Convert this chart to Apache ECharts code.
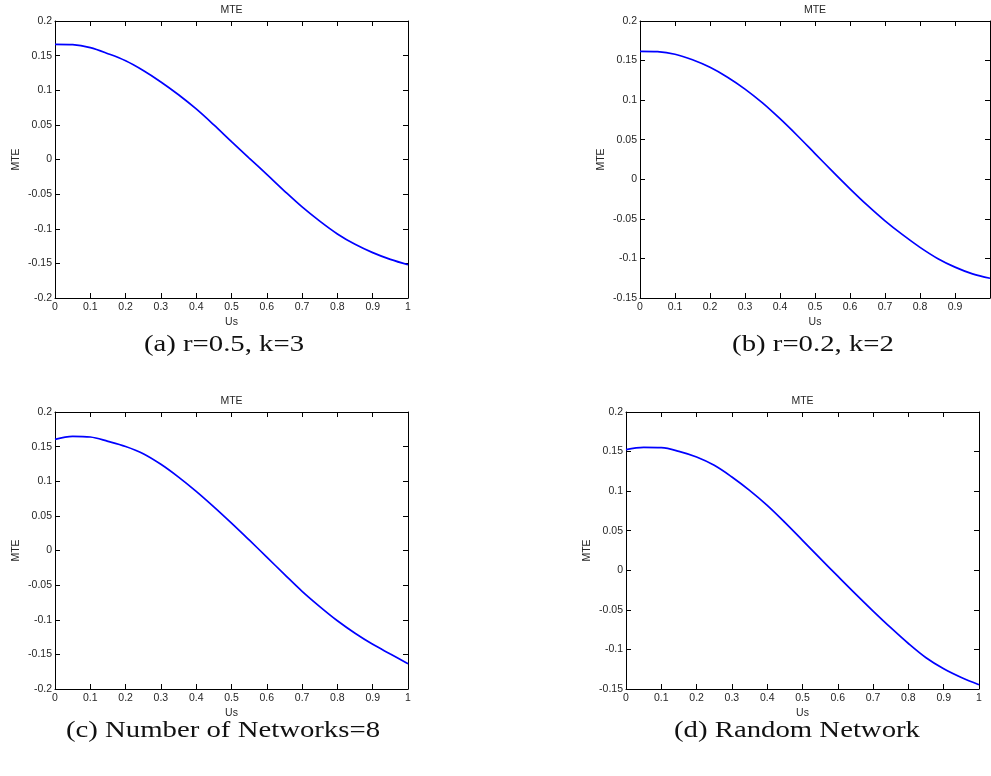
<!DOCTYPE html>
<html>
<head>
<meta charset="utf-8">
<script src="https://cdn.jsdelivr.net/npm/echarts@6/dist/echarts.min.js"></script>
<style>
html,body{margin:0;padding:0;background:#fff;overflow:hidden;}
#chart{width:991px;height:776px;}
</style>
</head>
<body>
<div id="chart"></div>
<script>
// Shared x samples (Us)
var usValues = [0,0.05,0.1,0.15,0.2,0.25,0.3,0.35,0.4,0.45,0.5,0.55,0.6,0.65,0.7,0.75,0.8,0.85,0.9,0.95,1.0];
// (a) r=0.5, k=3
var mteA = [0.1663,0.1658,0.1615,0.1528,0.1425,0.1285,0.1120,0.0935,0.0730,0.0500,0.0258,0.0020,-0.0215,-0.0455,-0.0685,-0.0890,-0.1075,-0.1225,-0.1345,-0.1443,-0.1520];
// (b) r=0.2, k=2
var mteB = [0.1617,0.1612,0.1580,0.1510,0.1415,0.1290,0.1140,0.0965,0.0765,0.0550,0.0325,0.0100,-0.0120,-0.0330,-0.0525,-0.0700,-0.0860,-0.1000,-0.1110,-0.1195,-0.1250];
// (c) Number of Networks=8
var mteC = [0.1605,0.1649,0.1639,0.1576,0.1502,0.1398,0.1245,0.1060,0.0854,0.0630,0.0395,0.0152,-0.0095,-0.0345,-0.0590,-0.0810,-0.1015,-0.1195,-0.1355,-0.1495,-0.1634];
// (d) Random Network
var mteD = [0.1524,0.1553,0.1549,0.1503,0.1431,0.1326,0.1179,0.1010,0.0820,0.0605,0.0378,0.0150,-0.0075,-0.0298,-0.0515,-0.0725,-0.0925,-0.1105,-0.1245,-0.1355,-0.1446];

var captions = ["(a) r=0.5, k=3", "(b) r=0.2, k=2", "(c) Number of Networks=8", "(d) Random Network"];
var plotTitle = "MTE";
var xName = "Us";
var yName = "MTE";
var yRanges = [[-0.2,0.2],[-0.15,0.2],[-0.2,0.2],[-0.15,0.2]];

var panels = [
  {data: mteA, grid:{left:55, top:21, width:353, height:277}, cap:{x:224,y:345}, showMaxX:true},
  {data: mteB, grid:{left:640, top:21, width:350, height:277}, cap:{x:813,y:345}, showMaxX:false},
  {data: mteC, grid:{left:55, top:412, width:353, height:277}, cap:{x:223,y:731}, showMaxX:true},
  {data: mteD, grid:{left:626, top:412, width:353, height:277}, cap:{x:797,y:731}, showMaxX:true}
];

var labelFont = {fontFamily:'Liberation Sans, Arial, sans-serif', fontSize:10.5, color:'#262626'};
var lineStyle = {color:'#000', width:1};
var option = {
  animation:false,
  backgroundColor:'#fff',
  grid:[], xAxis:[], yAxis:[], series:[], title:[], graphic:[]
};

panels.forEach(function(p, i){
  option.grid.push(Object.assign({containLabel:false, outerBoundsMode:'none', show:false}, p.grid));
  var tick = {show:true, inside:true, length:5, lineStyle:{color:'#000', width:1}};
  // bottom x
  option.xAxis.push({type:'value', gridIndex:i, min:0, max:1, interval:0.1, position:'bottom',
    axisLine:{show:true, onZero:false, lineStyle:lineStyle}, axisTick:tick,
    axisLabel:Object.assign({margin:4, showMaxLabel:p.showMaxX, showMinLabel:true, hideOverlap:false}, labelFont),
    splitLine:{show:false},
    name:xName, nameLocation:'middle', nameGap:19,
    nameTextStyle:labelFont});
  // top x
  option.xAxis.push({type:'value', gridIndex:i, min:0, max:1, interval:0.1, position:'top',
    axisLine:{show:true, onZero:false, lineStyle:lineStyle}, axisTick:tick,
    axisLabel:{show:false}, splitLine:{show:false}});
  // left y
  option.yAxis.push({type:'value', gridIndex:i, min:yRanges[i][0], max:yRanges[i][1], interval:0.05, position:'left',
    axisLine:{show:true, onZero:false, lineStyle:lineStyle}, axisTick:tick,
    axisLabel:Object.assign({margin:3, hideOverlap:false, formatter:function(v){return String(Math.round(v*100)/100);}}, labelFont),
    splitLine:{show:false},
    name:yName, nameLocation:'middle', nameGap:33, nameRotate:90,
    nameTextStyle:labelFont});
  // right y
  option.yAxis.push({type:'value', gridIndex:i, min:yRanges[i][0], max:yRanges[i][1], interval:0.05, position:'right',
    axisLine:{show:true, onZero:false, lineStyle:lineStyle}, axisTick:tick,
    axisLabel:{show:false}, splitLine:{show:false}});

  option.series.push({type:'line', xAxisIndex:i*2, yAxisIndex:i*2,
    data: usValues.map(function(u, j){return [u, p.data[j]];}),
    smooth:0.35, showSymbol:false, symbol:'none',
    lineStyle:{color:'#0000ff', width:1.7}, clip:true});

  option.title.push({text:plotTitle, left:p.grid.left + p.grid.width/2, top:p.grid.top - 16, padding:0,
    textAlign:'center',
    textStyle:{fontFamily:'Liberation Sans, Arial, sans-serif', fontSize:10.5, fontWeight:'normal', color:'#262626'}});

  option.graphic.push({type:'text', x:p.cap.x, y:p.cap.y, scaleX:1.25, scaleY:1,
    style:{text:captions[i], fill:'#111', font:'23px "Liberation Serif", "DejaVu Serif", serif',
      align:'center', verticalAlign:'middle'}});
});

var chart = echarts.init(document.getElementById('chart'), null, {renderer:'canvas'});
chart.setOption(option);
</script>
</body>
</html>
